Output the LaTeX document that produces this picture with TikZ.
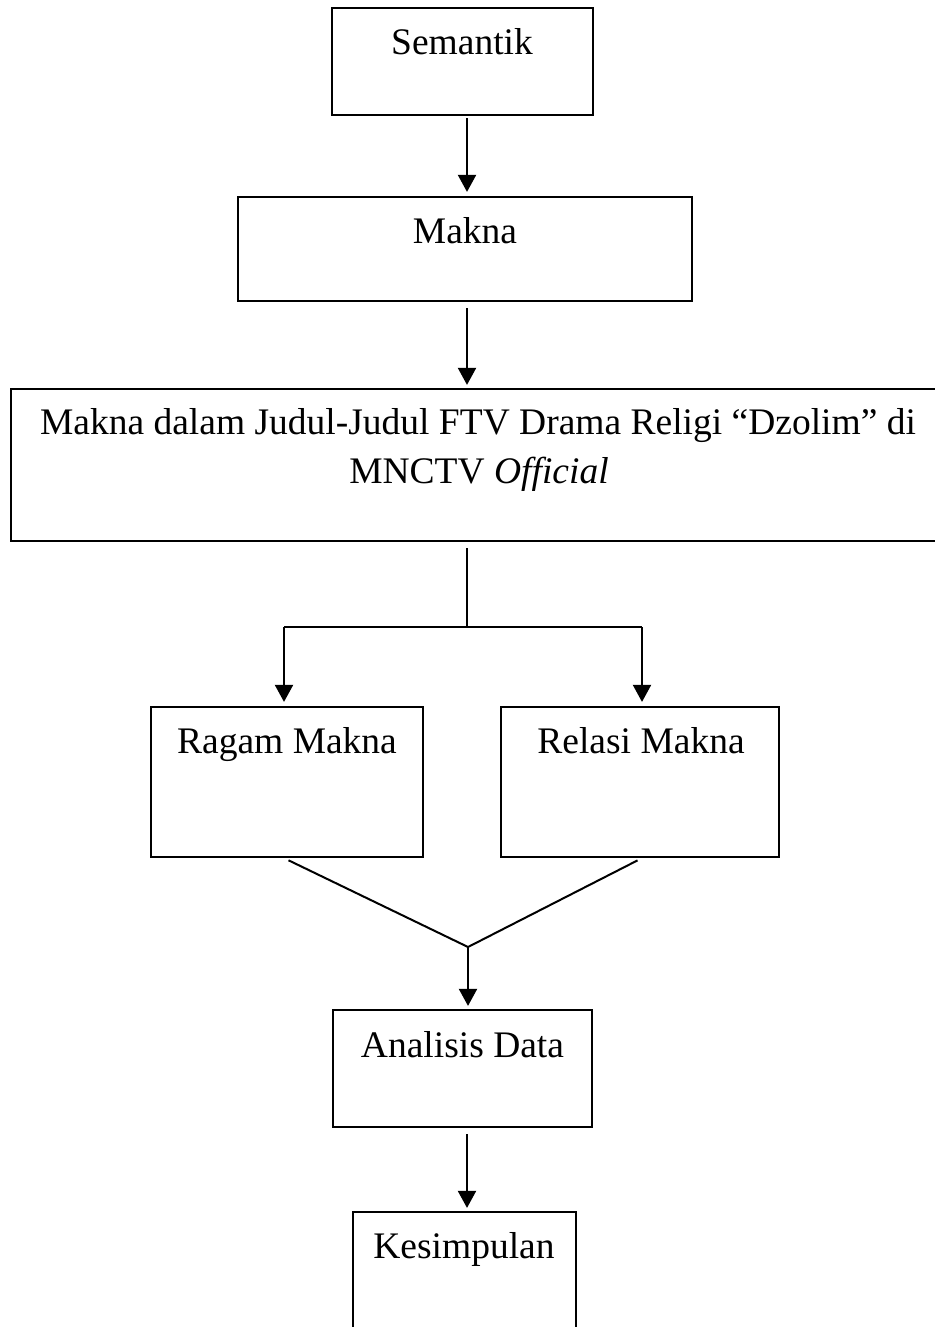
\documentclass[tikz,border=0pt]{standalone}
\usepackage{fontspec}
\setmainfont{Liberation Serif}
\usetikzlibrary{arrows.meta}
\begin{document}
\begin{tikzpicture}[x=0.5pt,y=-0.5pt,
  box/.style={draw,line width=1.1pt,rectangle,inner sep=0pt,minimum width=#1},
  lbl/.style={anchor=base,inner sep=0pt,font=\fontsize{18.75}{22}\selectfont},
  conn/.style={line width=1pt},
  arr/.style={line width=1pt,-{Triangle[width=9pt,length=8.5pt]}}]
\clip (0,0) rectangle (935,1327);
\fill[white] (0,0) rectangle (935,1327);
% boxes
\node[box=130.5pt,minimum height=53.5pt] (sem) at (462.5,61.5) {};
\node[box=227pt,minimum height=52pt] (mak) at (465,249) {};
\node[box=467pt,minimum height=76pt] (big) at (478,465) {};
\node[box=136pt,minimum height=75pt] (rag) at (287,782) {};
\node[box=139pt,minimum height=75pt] (rel) at (640,782) {};
\node[box=129.5pt,minimum height=58.5pt] (ana) at (462.5,1068.5) {};
\node[box=111.5pt,minimum height=64pt] (kes) at (464.5,1276) {};
% texts
\node[lbl] (tsem) at (462,55) {Semantik};
\node[lbl] (tmak) at (465,243) {Makna};
\node[lbl] (tbig1) at (478,434) {Makna dalam Judul-Judul FTV Drama Religi “Dzolim” di};
\node[lbl] (tbig2) at (479,483) {MNCTV \textit{Official}};
\node[lbl] (trag) at (287,753) {Ragam Makna};
\node[lbl] (trel) at (641,753) {Relasi Makna};
\node[lbl] (tana) at (462.5,1057) {Analisis Data};
\node[lbl] (tkes) at (464,1258) {Kesimpulan};
% coordinates
\coordinate (ax) at (467,0);
\coordinate (jn) at (467,627);
\coordinate (jl) at (284,627);
\coordinate (jr) at (642,627);
\coordinate (vp) at (468,947);
% connectors
\draw[arr,shorten <=1pt,shorten >=2pt] (sem.south -| ax) -- (mak.north -| ax);
\draw[arr,shorten <=3pt,shorten >=1.5pt] (mak.south -| ax) -- (big.north -| ax);
\draw[conn,shorten <=3pt] (big.south -| jn) -- (jn);
\draw[conn] (jl) -- (jr);
\draw[arr,shorten >=2pt] (jl) -- (jl |- rag.north);
\draw[arr,shorten >=2pt] (jr) -- (jr |- rel.north);
\draw[conn,shorten <=2.5pt] (rag.south -| jl) -- (vp);
\draw[conn,shorten <=2.5pt] (rel.south -| jr) -- (vp);
\draw[arr,shorten >=1.5pt] (vp) -- (vp |- ana.north);
\draw[arr,shorten <=3pt,shorten >=1.5pt] (ana.south -| ax) -- (kes.north -| ax);
\end{tikzpicture}
\end{document}
